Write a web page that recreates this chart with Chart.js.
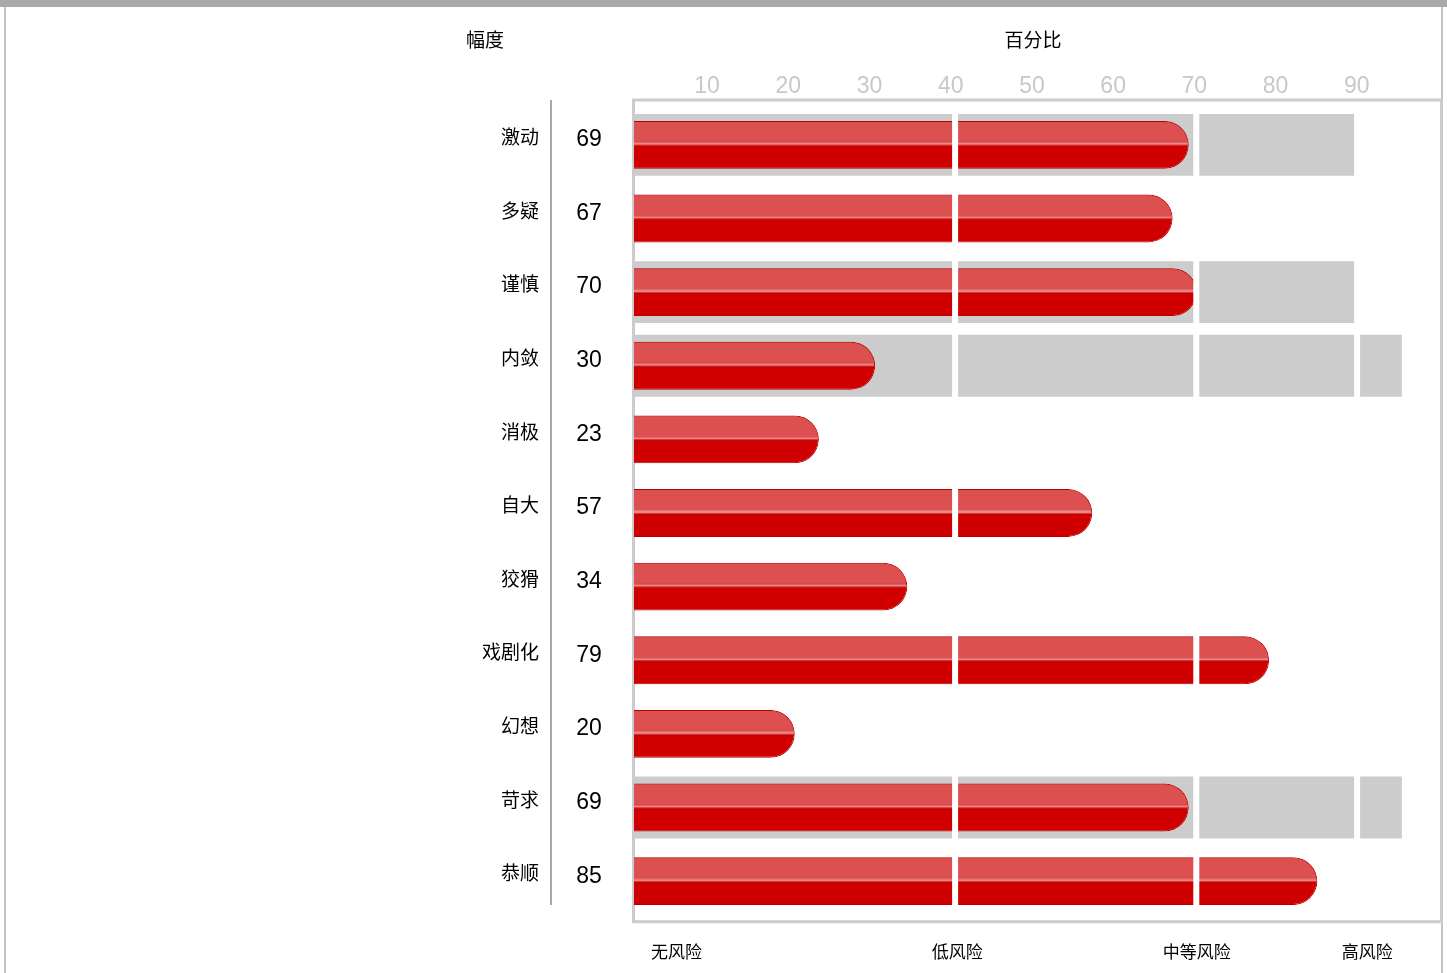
<!DOCTYPE html>
<html><head><meta charset="utf-8">
<script src="https://cdn.jsdelivr.net/npm/chart.js@4.4.1/dist/chart.umd.min.js"></script>
<style>
html,body{margin:0;padding:0;background:#fff;}
#wrap{position:relative;width:1447px;height:973px;overflow:hidden;background:#fff;}
#topbar{position:absolute;left:0;top:0;width:1447px;height:7px;background:#aaaaaa;}
#lline{position:absolute;left:4px;top:7px;width:2px;height:966px;background:#c4c4c4;}
#rline{position:absolute;left:1441px;top:7px;width:2px;height:966px;background:#c4c4c4;}
canvas{position:absolute;left:0;top:0;}
</style></head><body>
<div id="wrap"><div id="topbar"></div><div id="lline"></div><div id="rline"></div>
<canvas id="c" width="1447" height="973"></canvas></div>
<script>
const categories = ['激动','多疑','谨慎','内敛','消极','自大','狡猾','戏剧化','幻想','苛求','恭顺'];
const scores = [69,67,70,30,23,57,34,79,20,69,85];
const bandValues = [90,null,90,95.5,null,null,null,null,null,95.5,null];
const tickValues = [10,20,30,40,50,60,70,80,90];
const riskBreaks = [40,70,90];
const riskLabels = ['无风险','低风险','中等风险','高风险'];
const headerLeft = '幅度';
const headerRight = '百分比';

const CJK = '"Noto Sans CJK SC", "Noto Sans", sans-serif';
const LAT = '"Liberation Sans", Arial, sans-serif';

const deco = {
  id: 'deco',
  beforeDatasetsDraw(chart) {
    const {ctx, chartArea: a} = chart;
    ctx.save();
    ctx.strokeStyle = '#cccccc';
    ctx.lineWidth = 3;
    const fl = a.left - 0.5, ft = a.top - 8, fr = a.right + 3.5, fb = a.bottom + 3.7;
    ctx.strokeRect(fl, ft, fr - fl, fb - ft);
    ctx.restore();
  },
  afterDatasetsDraw(chart) {
    const {ctx, chartArea: a} = chart;
    const meta = chart.getDatasetMeta(1);
    meta.data.forEach(el => {
      const {x, y, base, height} = el.getProps(['x', 'y', 'base', 'height'], true);
      const l = Math.min(x, base), r = Math.max(x, base);
      const t = y - height / 2, b = y + height / 2;
      const rad = Math.min(height / 2, (r - l) / 2) - 1;
      ctx.save();
      ctx.beginPath();
      ctx.moveTo(l, t + 1);
      ctx.lineTo(r - 1 - rad, t + 1);
      ctx.arc(r - 1 - rad, y, rad, -Math.PI / 2, Math.PI / 2);
      ctx.lineTo(l, b - 1);
      ctx.closePath();
      ctx.clip();
      ctx.fillStyle = '#dc5050';
      ctx.fillRect(l, t, r - l, (y - 3) - t);
      ctx.fillStyle = '#e27070';
      ctx.fillRect(l, y - 3, r - l, 1);
      ctx.fillStyle = '#e98a8a';
      ctx.fillRect(l, y - 2, r - l, 2);
      ctx.fillStyle = '#d83a3a';
      ctx.fillRect(l, y, r - l, 1);
      ctx.fillStyle = '#c60000';
      ctx.fillRect(l, y + 1, r - l, 1);
      ctx.restore();
    });
    const xs = chart.scales.x;
    ctx.save();
    ctx.fillStyle = '#ffffff';
    riskBreaks.forEach(v => {
      const p = xs.getPixelForValue(v);
      ctx.fillRect(p - 3.5, a.top, 6, a.bottom - a.top);
    });
    ctx.restore();
  },
  afterDraw(chart) {
    const {ctx, chartArea: a} = chart;
    const ys = chart.scales.y, xs = chart.scales.x;
    ctx.save();
    ctx.textBaseline = 'middle';
    ctx.fillStyle = '#000';
    ctx.font = '19px ' + CJK;
    ctx.textAlign = 'center';
    ctx.fillText(headerLeft, 485, 40);
    ctx.fillText(headerRight, (a.left + a.right) / 2 - 3, 40);
    ctx.strokeStyle = '#a8a8a8';
    ctx.lineWidth = 2;
    ctx.beginPath();
    ctx.moveTo(551, a.top - 8);
    ctx.lineTo(551, a.bottom - 13);
    ctx.stroke();
    categories.forEach((c, i) => {
      const py = ys.getPixelForValue(i);
      ctx.font = '19px ' + CJK;
      ctx.textAlign = 'right';
      ctx.fillStyle = '#000';
      ctx.fillText(c, 539, py - 8);
      ctx.font = '23px ' + LAT;
      ctx.textAlign = 'center';
      ctx.fillText(String(scores[i]), 589, py - 5);
    });
    const anchors = [5.3, 40.2, 70, 91.2];
    ctx.font = '17px ' + CJK;
    ctx.textAlign = 'center';
    riskLabels.forEach((t, i) => {
      ctx.fillText(t, xs.getPixelForValue(anchors[i]), 952);
    });
    ctx.restore();
  }
};

new Chart(document.getElementById('c'), {
  type: 'bar',
  data: {
    labels: categories,
    datasets: [
      {label: '区间', data: bandValues, backgroundColor: '#cccccc', borderWidth: 0,
       barPercentage: 0.84, categoryPercentage: 1, grouped: false, order: 2, xAxisID: 'x'},
      {label: '百分比', data: scores, backgroundColor: '#d00000', borderColor: '#b80000',
       borderWidth: 1, borderSkipped: 'start', borderRadius: 100,
       barPercentage: 0.65, categoryPercentage: 1, grouped: false, order: 1, xAxisID: 'x'}
    ]
  },
  options: {
    indexAxis: 'y',
    responsive: false,
    animation: false,
    layout: {padding: {left: 634, right: 9, top: 58, bottom: 55}},
    plugins: {legend: {display: false}, tooltip: {enabled: false}},
    scales: {
      x: {type: 'linear', display: false, min: 0, max: 100},
      xt: {type: 'linear', axis: 'x', position: 'top', min: 1, max: 100,
           afterBuildTicks: s => { s.ticks = tickValues.map(v => ({value: v})); },
           afterFit: s => { s.height = 50; },
           grid: {display: false, drawTicks: false}, border: {display: false},
           ticks: {color: '#c8c8c8', font: {family: LAT, size: 23}, padding: 8, autoSkip: false, maxRotation: 0}},
      y: {display: false}
    }
  },
  plugins: [deco]
});
</script>
</body></html>
